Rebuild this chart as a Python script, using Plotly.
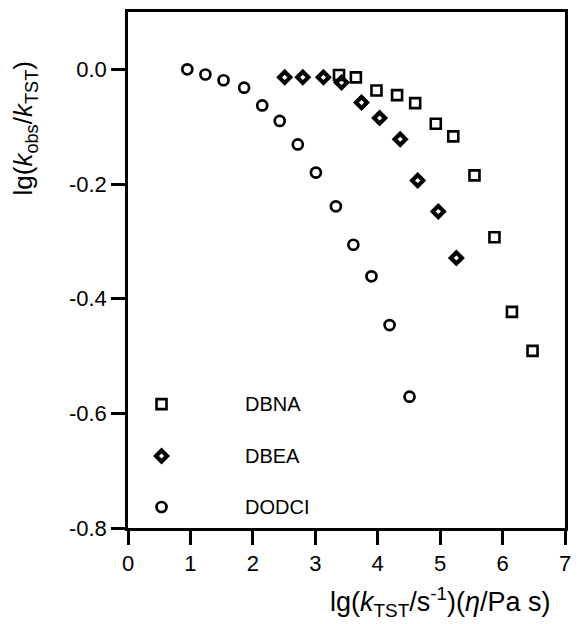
import plotly.graph_objects as go

# lg(k_TST) (x) and lg(k_obs/k_TST) (y) for each dye
dodci_x = [0.95, 1.24, 1.53, 1.86, 2.15, 2.43, 2.72, 3.01, 3.33, 3.61, 3.90, 4.19, 4.51]
dodci_y = [0.000, -0.009, -0.019, -0.032, -0.063, -0.090, -0.131, -0.180, -0.239, -0.306, -0.361, -0.446, -0.571]

dbea_x = [2.51, 2.80, 3.13, 3.42, 3.74, 4.03, 4.36, 4.64, 4.97, 5.26]
dbea_y = [-0.014, -0.014, -0.014, -0.023, -0.058, -0.085, -0.122, -0.194, -0.248, -0.329]

dbna_x = [3.38, 3.65, 3.98, 4.31, 4.60, 4.93, 5.21, 5.55, 5.87, 6.15, 6.48]
dbna_y = [-0.010, -0.014, -0.037, -0.045, -0.059, -0.095, -0.117, -0.185, -0.293, -0.423, -0.491]

x_ticks = [0, 1, 2, 3, 4, 5, 6, 7]
y_ticks = [0.0, -0.2, -0.4, -0.6, -0.8]
y_tick_text = ["0.0", "-0.2", "-0.4", "-0.6", "-0.8"]

legend_names = ["DBNA", "DBEA", "DODCI"]

FONT = "Liberation Sans, Arial, Helvetica, sans-serif"

styles = {
    "DBNA": dict(symbol="square-open", size=10, line=dict(width=2.6, color="black")),
    "DBEA": dict(symbol="diamond-open", size=8.5, line=dict(width=4.2, color="black")),
    "DODCI": dict(symbol="circle-open", size=10, line=dict(width=2.7, color="black")),
}

fig = go.Figure()
for name, xs, ys in [("DBNA", dbna_x, dbna_y), ("DBEA", dbea_x, dbea_y), ("DODCI", dodci_x, dodci_y)]:
    fig.add_trace(go.Scatter(x=xs, y=ys, mode="markers", name=name,
                             marker=dict(color="black", **styles[name]), showlegend=False))

# Key in the lower-left corner, placed in axis-fraction coordinates
key_y = [0.240, 0.1395, 0.0407]
for name, ky in zip(legend_names, key_y):
    fig.add_trace(go.Scatter(x=[0.0767], y=[ky], mode="markers", xaxis="x2", yaxis="y2",
                             marker=dict(color="black", **styles[name]), showlegend=False,
                             hoverinfo="skip"))
    fig.add_annotation(x=0.264, y=ky, xref="paper", yref="paper", text=name,
                       showarrow=False, xanchor="left", yanchor="middle",
                       font=dict(family=FONT, size=20, color="black"))

fig.add_annotation(x=-0.237, y=0.775, xref="paper", yref="paper", textangle=-90,
                   text="lg(<i>k</i><sub>obs</sub>/<i>k</i><sub>TST</sub>)",
                   showarrow=False, xanchor="center", yanchor="middle",
                   font=dict(family=FONT, size=26, color="black"))
fig.add_annotation(x=0.716, y=-0.143, xref="paper", yref="paper",
                   text="lg(<i>k</i><sub>TST</sub>/s<sup>-1</sup>)(<i>η</i>/Pa s)",
                   showarrow=False, xanchor="center", yanchor="middle",
                   font=dict(family=FONT, size=27, color="black"))

axis_common = dict(showgrid=False, zeroline=False, showline=True, linecolor="black",
                   linewidth=2.5, mirror=True, ticks="outside", ticklen=14,
                   tickwidth=2.5, tickcolor="black",
                   tickfont=dict(family=FONT, size=22, color="black"))

fig.update_layout(
    width=577, height=624,
    margin=dict(l=128, r=6, t=12, b=96),
    paper_bgcolor="white", plot_bgcolor="white",
    xaxis=dict(range=[0, 7], tickvals=x_ticks, **axis_common),
    yaxis=dict(range=[-0.8, 0.1], tickvals=y_ticks, ticktext=y_tick_text, **axis_common),
    xaxis2=dict(range=[0, 1], overlaying="x", visible=False),
    yaxis2=dict(range=[0, 1], overlaying="y", visible=False),
)

fig.write_html("out.html")
